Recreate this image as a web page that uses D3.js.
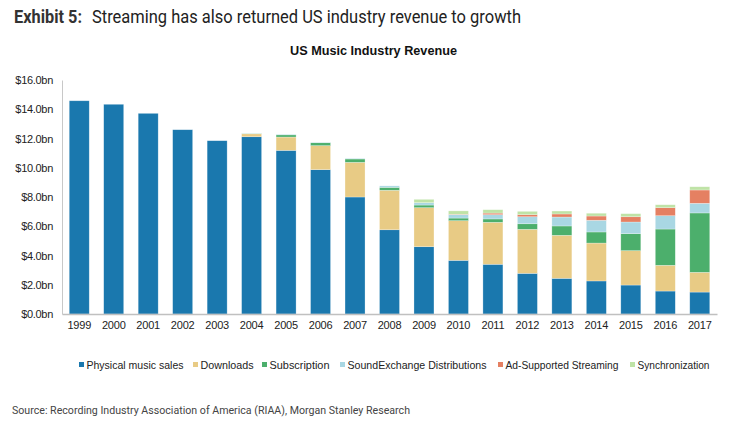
<!DOCTYPE html>
<html><head><meta charset="utf-8">
<script src="https://cdn.jsdelivr.net/npm/d3@7"></script>
<style>body{margin:0;background:#fff}svg{display:block}</style>
</head><body><svg id="c" width="740" height="422"></svg>
<script>
const years = ["1999","2000","2001","2002","2003","2004","2005","2006","2007","2008","2009","2010","2011","2012","2013","2014","2015","2016","2017"];
const seriesNames = ["Physical music sales","Downloads","Subscription","SoundExchange Distributions","Ad-Supported Streaming","Synchronization"];
const physical     = [14.58,14.34,13.72,12.60,11.85,12.12,11.19,9.87,8.00,5.76,4.60,3.67,3.40,2.78,2.44,2.26,1.98,1.57,1.50];
const downloads    = [0,0,0,0,0,0.20,0.91,1.64,2.37,2.70,2.67,2.71,2.87,3.01,2.94,2.59,2.35,1.76,1.35];
const subscription = [0,0,0,0,0,0.02,0.15,0.20,0.23,0.20,0.18,0.18,0.23,0.38,0.64,0.76,1.16,2.48,4.06];
const soundExchange= [0,0,0,0,0,0.01,0.04,0.03,0.04,0.10,0.16,0.23,0.29,0.48,0.61,0.80,0.80,0.91,0.66];
const adSupported  = [0,0,0,0,0,0,0,0,0,0,0,0.03,0.11,0.14,0.21,0.29,0.36,0.55,0.91];
const sync         = [0,0,0,0,0,0,0,0,0,0,0.23,0.23,0.23,0.23,0.20,0.19,0.21,0.20,0.22];
const yTicks = [0,2,4,6,8,10,12,14,16];
const colors = ["#1a78ae","#e8cb85","#4caf6c","#a9d7e3","#e58062","#bfe3a6"];

const svg = d3.select("#c");
const arial = "'Liberation Sans',Arial,sans-serif";

const rows = years.map((y,i)=>({year:y,"Physical music sales":physical[i],"Downloads":downloads[i],"Subscription":subscription[i],"SoundExchange Distributions":soundExchange[i],"Ad-Supported Streaming":adSupported[i],"Synchronization":sync[i]}));
const stack = d3.stack().keys(seriesNames)(rows);

const x = d3.scaleBand().domain(years).range([62,717]).paddingInner(0.42).paddingOuter(0.21);
const y = d3.scaleLinear().domain([0,16]).range([314,80]);

// title
svg.append("text").attr("x",14).attr("y",22.5).attr("font-family","Roboto,sans-serif").attr("font-weight","bold")
  .attr("font-size",17.5).attr("fill","#333").attr("textLength",68).attr("lengthAdjust","spacingAndGlyphs").text("Exhibit 5:");
svg.append("text").attr("x",92).attr("y",22.5).attr("font-family","Roboto,sans-serif")
  .attr("font-size",17.5).attr("fill","#222").attr("textLength",429).attr("lengthAdjust","spacingAndGlyphs")
  .text("Streaming has also returned US industry revenue to growth");

svg.append("text").attr("x",290).attr("y",55).attr("font-family",arial)
  .attr("font-weight","bold").attr("font-size",13.5).attr("fill","#111")
  .attr("textLength",167).attr("lengthAdjust","spacingAndGlyphs").text("US Music Industry Revenue");

// bars
svg.append("g").selectAll("g").data(stack).join("g").attr("fill",(d,i)=>colors[i])
  .selectAll("rect").data(d=>d.filter(p=>p[1]-p[0]>0)).join("rect")
  .attr("x",d=>x(d.data.year)).attr("width",x.bandwidth())
  .attr("y",d=>y(d[1])).attr("height",d=>y(d[0])-y(d[1]))
  .attr("stroke","#ffffff").attr("stroke-opacity",0.45).attr("stroke-width",0.6);

// y axis
const ya = svg.append("g").attr("transform","translate(62,0)")
  .call(d3.axisLeft(y).tickValues(yTicks).tickSize(0).tickPadding(9).tickFormat(d=>"$"+d.toFixed(1)+"bn"));
ya.select(".domain").attr("stroke","#c8c8c8");
ya.selectAll("text").attr("font-family",arial).attr("font-size",11).attr("fill","#222").attr("letter-spacing","-0.3");

// x axis
const xa = svg.append("g").attr("transform","translate(0,314)")
  .call(d3.axisBottom(x).tickSize(0).tickPadding(7));
xa.select(".domain").attr("stroke","#c0c0c0").attr("stroke-width",1.5);
xa.selectAll("text").attr("font-family",arial).attr("font-size",11).attr("fill","#222").attr("letter-spacing","-0.2");

// legend
const legX = [79,193,262,340,498,630];
const legW = [97,53,60,139,113,72];
const lg = svg.append("g").selectAll("g").data(seriesNames).join("g")
  .attr("transform",(d,i)=>`translate(${legX[i]},364.5)`);
lg.append("rect").attr("x",0).attr("y",-2.5).attr("width",5).attr("height",5).attr("fill",(d,i)=>colors[i]);
lg.append("text").attr("x",7.5).attr("y",4).attr("font-family",arial).attr("font-size",11).attr("fill","#222")
  .attr("textLength",(d,i)=>legW[i]).attr("lengthAdjust","spacingAndGlyphs").text(d=>d);

svg.append("text").attr("x",12).attr("y",414).attr("font-family","Roboto,sans-serif").attr("font-size",10.8)
  .attr("fill","#444").attr("textLength",398).attr("lengthAdjust","spacingAndGlyphs")
  .text("Source: Recording Industry Association of America (RIAA), Morgan Stanley Research");
</script></body></html>
